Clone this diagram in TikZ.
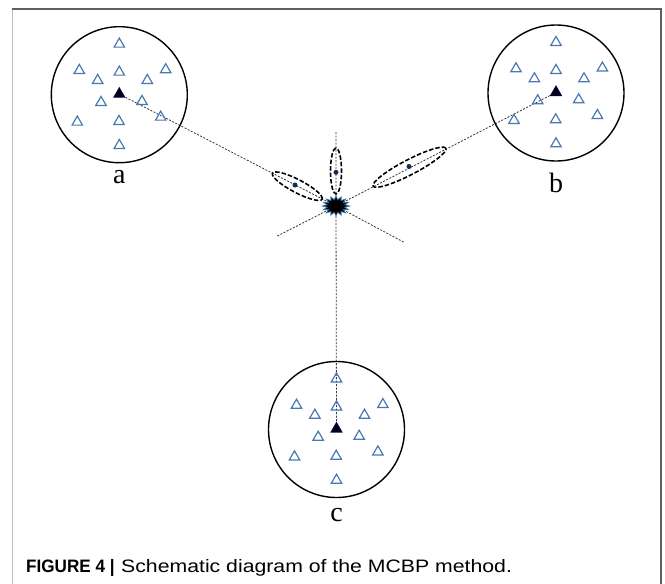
\documentclass[tikz,border=0pt]{standalone}
\usepackage{fontspec}
\usepackage{graphicx}
\setmainfont{Liberation Serif}
\newfontfamily\capfont{Liberation Sans}
\usetikzlibrary{shapes.geometric}
\definecolor{triblue}{RGB}{74,120,178}
\definecolor{dotblue}{RGB}{20,45,80}
\definecolor{starblue}{RGB}{60,110,170}
\definecolor{frameL}{RGB}{190,190,190}
\definecolor{frameD}{RGB}{95,95,95}
\pgfdeclarelayer{bg}
\pgfsetlayers{bg,main}
\newcommand\mycluster[5]{%
 \begin{scope}[shift={(#2,#3)}]
  \node[clu] (#1circ) at (0,2) {};
  \node[tri] (#1t1) at (0,-50) {};
  \node[tri] (#1t2) at (-40,-23.7) {};
  \node[tri] (#1t3) at (0,-22) {};
  \node[tri] (#1t4) at (46.4,-24.4) {};
  \node[tri] (#1t5) at (-21.6,-13.7) {};
  \node[tri] (#1t6) at (28,-13.7) {};
  \node[tri] (#1t7) at (-18.3,8.3) {};
  \node[tri] (#1t8) at (22.7,7.3) {};
  \node[tri] (#1t9) at (-42,28) {};
  \node[tri] (#1t10) at (-0.3,27.3) {};
  \node[tri] (#1t11) at (41.4,23) {};
  \node[tri] (#1t12) at (0,51.3) {};
  \node[ftri] (#1f) at (0,0) {};
  \node[lbl] (#1lbl) at (0,#4) {#5};
 \end{scope}}
\begin{document}
\begin{tikzpicture}[x=1pt,y=-1pt,
  tri/.style={regular polygon, regular polygon sides=3, draw=triblue, line width=1.2pt, minimum size=12pt, inner sep=0pt, yshift=-1.4pt},
  ftri/.style={tri, fill=black, draw=black!70!blue},
  clu/.style={circle, draw=black, line width=1.4pt, minimum size=136pt, inner sep=0pt},
  lbl/.style={font=\fontsize{28}{28}\selectfont, inner sep=0pt},
  conn/.style={draw=black!80, line width=0.8pt, dash pattern=on 2pt off 1.5pt},
  ell/.style={ellipse, draw=black, line width=1.6pt, dash pattern=on 4.5pt off 2pt, inner sep=0pt},
  dotn/.style={circle, fill=dotblue, inner sep=0pt, minimum size=5pt},
  starn/.style={star, star points=16, star point ratio=1.5, fill=black, draw=starblue, line width=0.8pt, minimum size=27pt, inner sep=0pt, transform shape},
  captxt/.style={anchor=base west, inner sep=0pt, font=\capfont\fontsize{18}{20}\selectfont}
]
\useasboundingbox (0,0) rectangle (665,584);
% frame
\draw[frameL, line width=1.5pt] (12.5,9) -- (12.5,584);
\draw[frameD, line width=1.3pt] (12,9) -- (661,9) -- (661,584);

\mycluster{a}{119.3}{92.7}{84.5}{a}
\mycluster{b}{556}{91}{92}{b}
\mycluster{c}{336.5}{427.5}{87.5}{c}

% central star
\begin{scope}[shift={(336,206)}, yscale=0.72]
  \node[starn] (star) at (0,0) {};
\end{scope}

% ellipses and dots
\node[ell, minimum width=56pt, minimum height=13pt, rotate=-27.7] (e1) at (297.3,186.2) {};
\node[dotn] (d1) at (295,185) {};
\node[ell, minimum width=46pt, minimum height=11pt, rotate=90] (e2) at (336,171) {};
\node[dotn] (d2) at (336,172.3) {};
\node[ell, minimum width=82pt, minimum height=15pt, rotate=27.5] (e3) at (409.5,167.2) {};
\node[dotn] (d3) at (409,166.5) {};

% connectors
\coordinate (aend) at (404,242.3);
\coordinate (bend) at (276,236.7);
\coordinate (vtop) at (336,132);
\begin{pgfonlayer}{bg}
\draw[conn] (af.center) -- (star.center) -- (aend);
\draw[conn] (bf.center) -- (star.center) -- (bend);
\draw[conn] (vtop) -- (star.center) -- (cf.center);
\end{pgfonlayer}

% caption
\node[captxt] (cap1) at (26,572.5) {\scalebox{0.95}[1]{\bfseries FIGURE 4 |}};
\node[captxt] (cap2) at (121,572.5) {\scalebox{1.18}[1]{Schematic diagram of the MCBP method.}};
\end{tikzpicture}
\end{document}
